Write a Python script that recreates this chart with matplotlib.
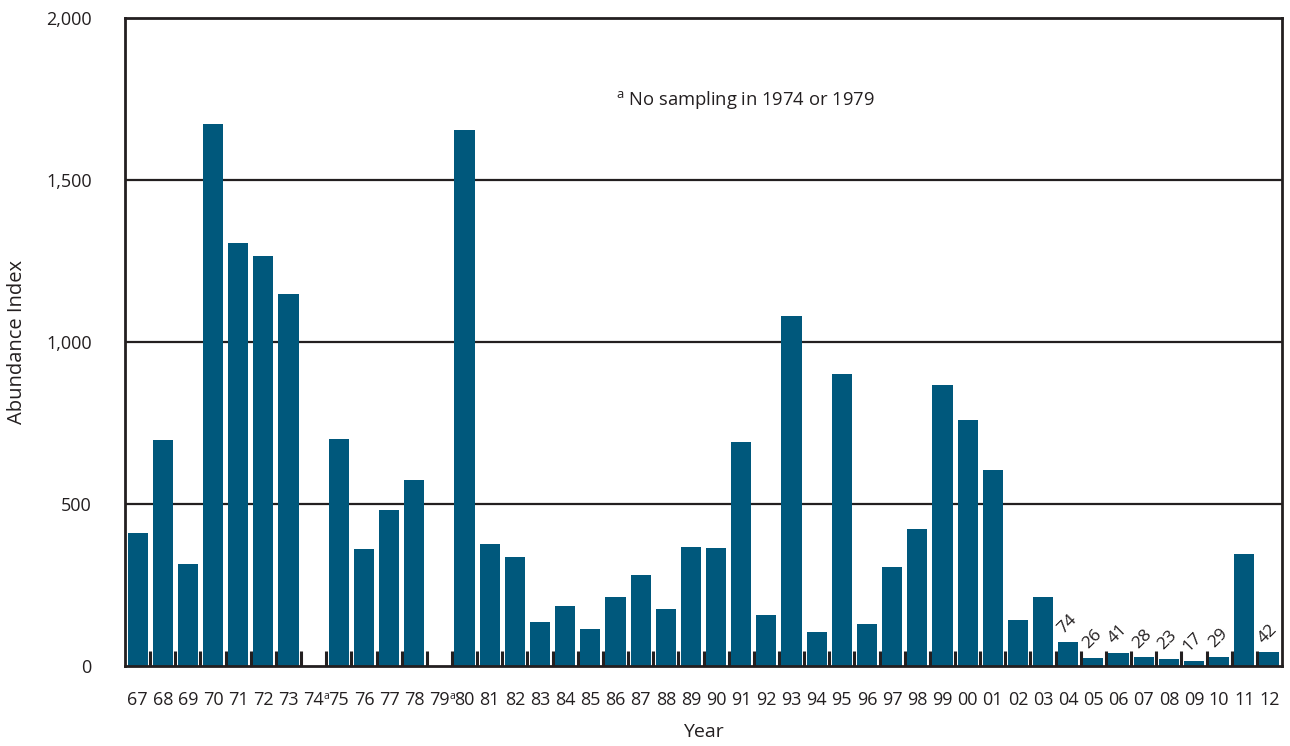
import matplotlib
matplotlib.use("Agg")
import matplotlib.pyplot as plt
import matplotlib.transforms as mtrans
import numpy as np

plt.rcParams['font.family'] = ['Open Sans', 'DejaVu Sans']
plt.rcParams['mathtext.fontset'] = 'custom'
plt.rcParams['mathtext.rm'] = 'Open Sans'

years = ["67", "68", "69", "70", "71", "72", "73", "74", "75", "76", "77", "78", "79",
         "80", "81", "82", "83", "84", "85", "86", "87", "88", "89", "90", "91", "92",
         "93", "94", "95", "96", "97", "98", "99", "00", "01", "02", "03", "04", "05",
         "06", "07", "08", "09", "10", "11", "12"]
values = [410, 697, 315, 1673, 1305, 1265, 1148, None, 700, 361, 481, 574, None,
          1655, 376, 335, 136, 185, 114, 213, 282, 176, 368, 365, 691, 157,
          1080, 105, 901, 130, 306, 423, 867, 759, 605, 142, 213, 74, 26,
          41, 28, 23, 17, 29, 346, 42]
labeled = ["04", "05", "06", "07", "08", "09", "10", "12"]
no_sampling = ["74", "79"]

bar_color = "#00587c"
ink = "#231f20"

fig = plt.figure(figsize=(12.9, 7.46), dpi=100)
ax = fig.add_axes([0.0969, 0.1072, 0.8969, 0.8687])

x = np.arange(len(years))
vals = np.array([np.nan if v is None else v for v in values], dtype=float)
ax.bar(x, np.nan_to_num(vals), width=0.8, color=bar_color, zorder=3)

ax.set_xlim(-0.5, len(years) - 0.5)
ax.set_ylim(0, 2000)
ax.set_yticks([0, 500, 1000, 1500, 2000])
ax.set_yticklabels(["0", "500", "1,000", "1,500", "2,000"])
for yv in [500, 1000, 1500]:
    ax.axhline(yv, color=ink, lw=1.6, zorder=1)

ax.set_xticks(x)
ax.set_xticklabels(years)
ax.tick_params(axis='x', which='major', length=0, pad=18, labelsize=13, labelcolor=ink)
ax.tick_params(axis='y', length=0, pad=24, labelsize=13, labelcolor=ink)
ax.set_xticks(np.arange(0.5, len(years) - 1, 1.0), minor=True)
ax.tick_params(axis='x', which='minor', direction='in', length=11, width=2.2, color=ink)

for s in ax.spines.values():
    s.set_color(ink)
    s.set_linewidth(2)
    s.set_zorder(4)

# superscript markers for missing years
for i, y in enumerate(years):
    if y in no_sampling:
        ax.annotate("a", xy=(i, 0), xycoords=('data', 'axes fraction'),
                    xytext=(9.5, -22), textcoords='offset points',
                    fontsize=7.5, color=ink, ha='center', va='center')

# value labels for small bars
for i, y in enumerate(years):
    if y in labeled:
        ax.annotate(f"{int(vals[i])}", xy=(i - 0.1, vals[i]), xytext=(0, 4),
                    textcoords='offset points', rotation=45, fontsize=12.5,
                    color=ink, ha='left', va='bottom', rotation_mode='anchor')

ax.text(0.536, 1747, "$^{\\mathrm{a}}$ No sampling in 1974 or 1979",
        transform=mtrans.blended_transform_factory(ax.transAxes, ax.transData),
        ha='center', va='center', fontsize=13.2, color=ink)

ax.set_ylabel("Abundance Index", fontsize=14.5, color=ink, labelpad=14)
ax.set_xlabel("Year", fontsize=14, color=ink, labelpad=10)

fig.savefig("out.png", dpi=100)
